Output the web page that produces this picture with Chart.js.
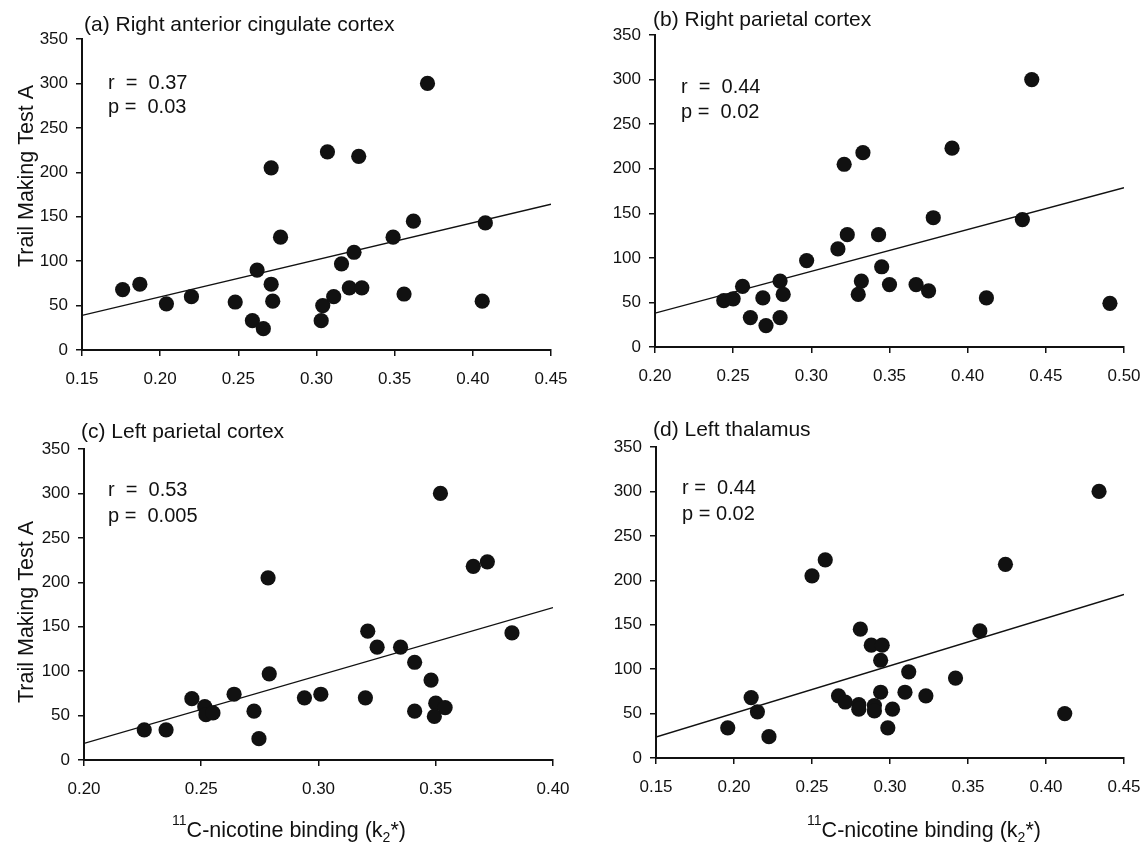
<!DOCTYPE html>
<html><head><meta charset="utf-8">
<script src="https://cdn.jsdelivr.net/npm/chart.js@4.4.0/dist/chart.umd.min.js"></script>
<style>
html,body{margin:0;padding:0;background:#fff;width:1146px;height:843px;overflow:hidden}
canvas{position:absolute;left:0;top:0;pointer-events:none}
</style></head>
<body>
<canvas id="ca" width="1146" height="843"></canvas>
<canvas id="cb" width="1146" height="843"></canvas>
<canvas id="cc" width="1146" height="843"></canvas>
<canvas id="cd" width="1146" height="843"></canvas>
<script>
// ---- data ----
const yTickLabels = ['0','50','100','150','200','250','300','350'];
const xTickLabelsA = ['0.15','0.20','0.25','0.30','0.35','0.40','0.45'];
const xTickLabelsB = ['0.20','0.25','0.30','0.35','0.40','0.45','0.50'];
const xTickLabelsC = ['0.20','0.25','0.30','0.35','0.40'];
const xTickLabelsD = ['0.15','0.20','0.25','0.30','0.35','0.40','0.45'];

const titleA = '(a) Right anterior cingulate cortex';
const titleB = '(b) Right parietal cortex';
const titleC = '(c) Left parietal cortex';
const titleD = '(d) Left thalamus';
const statsA = ['r  =  0.37', 'p =  0.03'];
const statsB = ['r  =  0.44', 'p =  0.02'];
const statsC = ['r  =  0.53', 'p =  0.005'];
const statsD = ['r =  0.44', 'p = 0.02'];
const yAxisTitle = 'Trail Making Test A';

const xA = [0.176,0.187,0.204,0.220,0.248,0.259,0.266,0.262,0.271,0.272,0.271,0.277,0.303,0.304,0.311,0.307,0.316,0.321,0.329,0.324,0.327,0.349,0.356,0.362,0.371,0.406,0.408];
const yA = [68,74,52,60,54,33,24,90,74,55,205,127,33,50,60,223,97,70,70,110,218,127,63,145,300,55,143];
const fitA = [39,164];

const xB = [0.244,0.250,0.256,0.261,0.269,0.271,0.280,0.282,0.280,0.297,0.317,0.323,0.321,0.333,0.332,0.330,0.343,0.345,0.350,0.367,0.375,0.378,0.390,0.412,0.435,0.441,0.491];
const yB = [52,54,68,33,55,24,74,59,33,97,110,126,205,218,74,59,126,90,70,70,63,145,223,55,143,300,49];
const fitB = [38,178.6];

const xC = [0.2257,0.235,0.246,0.2515,0.252,0.255,0.264,0.2725,0.2746,0.2785,0.279,0.294,0.301,0.320,0.321,0.325,0.335,0.341,0.348,0.341,0.350,0.3494,0.354,0.352,0.366,0.372,0.3825];
const yC = [34,34,69,60,51,53,74,55,24,205,97,70,74,70,145,127,127,110,90,55,64,49,59,300,218,223,143];
const fitC = [18.7,171.5];

const xD = [0.196,0.211,0.215,0.2224,0.250,0.2585,0.267,0.2713,0.280,0.280,0.281,0.288,0.295,0.294,0.294,0.290,0.290,0.2986,0.3016,0.3096,0.312,0.323,0.342,0.3576,0.374,0.412,0.434];
const yD = [34,68,52,24,205,223,70,63,60,55,145,127,127,110,74,59,53,34,55,74,97,70,90,143,218,50,300];
const fitD = [23.6,184];

// ---- layout / style ----
const FONT = "'Liberation Sans', Arial, Helvetica, sans-serif";
const W = 1146, H = 843;
const YW = 78, XH = 60; // fixed axis box sizes
const panels = [
  {id:'ca', xs:xA, ys:yA, fit:fitA, xt:xTickLabelsA, title:titleA, stats:statsA,
   area:{l:82,t:39,r:551,b:350}, titlePos:{x:84,y:31}, statsPos:{x:108,y1:89,y2:113},
   yTitle:{x:33,cy:176}, xTitle:null},
  {id:'cb', xs:xB, ys:yB, fit:fitB, xt:xTickLabelsB, title:titleB, stats:statsB,
   area:{l:655,t:35,r:1124,b:347}, titlePos:{x:653,y:26}, statsPos:{x:681,y1:93,y2:118},
   yTitle:null, xTitle:null},
  {id:'cc', xs:xC, ys:yC, fit:fitC, xt:xTickLabelsC, title:titleC, stats:statsC,
   area:{l:84,t:449,r:553,b:760}, titlePos:{x:81,y:438}, statsPos:{x:108,y1:496,y2:522},
   yTitle:{x:33,cy:612}, xTitle:{cx:289,y:837}},
  {id:'cd', xs:xD, ys:yD, fit:fitD, xt:xTickLabelsD, title:titleD, stats:statsD,
   area:{l:656,t:447,r:1124,b:758}, titlePos:{x:653,y:436}, statsPos:{x:682,y1:494,y2:520},
   yTitle:null, xTitle:{cx:924,y:837}}
];

function drawXTitle(ctx, cx, y) {
  const big = '21.5px ' + FONT, small = '14px ' + FONT;
  const parts = [
    {t:'11', f:small, dy:-12},
    {t:'C-nicotine binding (k', f:big, dy:0},
    {t:'2', f:small, dy:5},
    {t:'*)', f:big, dy:0}
  ];
  let total = 0;
  parts.forEach(p => { ctx.font = p.f; p.w = ctx.measureText(p.t).width; total += p.w; });
  let x = cx - total / 2;
  ctx.textAlign = 'left';
  ctx.textBaseline = 'alphabetic';
  parts.forEach(p => { ctx.font = p.f; ctx.fillText(p.t, x, y + p.dy); x += p.w; });
}

const textPlugin = {
  id: 'panelText',
  afterDraw(chart, args, opts) {
    const p = opts.panel;
    const ctx = chart.ctx;
    ctx.save();
    ctx.fillStyle = '#111';
    ctx.textAlign = 'left';
    ctx.textBaseline = 'alphabetic';
    ctx.font = '21px ' + FONT;
    ctx.fillText(p.title, p.titlePos.x, p.titlePos.y);
    ctx.font = '20px ' + FONT;
    ctx.fillText(p.stats[0], p.statsPos.x, p.statsPos.y1);
    ctx.fillText(p.stats[1], p.statsPos.x, p.statsPos.y2);
    if (p.yTitle) {
      ctx.save();
      ctx.translate(p.yTitle.x, p.yTitle.cy);
      ctx.rotate(-Math.PI / 2);
      ctx.font = '21.5px ' + FONT;
      ctx.textAlign = 'center';
      ctx.fillText(yAxisTitle, 0, 0);
      ctx.restore();
    }
    if (p.xTitle) drawXTitle(ctx, p.xTitle.cx, p.xTitle.y);
    ctx.restore();
  }
};

function fixFit(scale) {
  if (scale.isHorizontal()) scale.height = XH; else scale.width = YW;
  scale.paddingLeft = 0; scale.paddingRight = 0;
  scale.paddingTop = 0; scale.paddingBottom = 0;
}

panels.forEach(p => {
  const xVals = p.xt.map(Number);
  const xmin = xVals[0], xmax = xVals[xVals.length - 1];
  const pts = p.xs.map((x, i) => ({x: x, y: p.ys[i]}));
  const line = [{x: xmin, y: p.fit[0]}, {x: xmax, y: p.fit[1]}];
  new Chart(document.getElementById(p.id), {
    type: 'scatter',
    data: {
      datasets: [
        {type:'line', data: line, borderColor:'#111', borderWidth:1.4, pointRadius:0, fill:false, order:2},
        {data: pts, backgroundColor:'#111', borderWidth:0, pointRadius:7.6, pointHoverRadius:7.6, order:1}
      ]
    },
    options: {
      responsive: false,
      animation: false,
      devicePixelRatio: 1,
      events: [],
      layout: {padding: {left: p.area.l - YW, top: p.area.t, right: W - p.area.r, bottom: H - p.area.b - XH}},
      plugins: {legend:{display:false}, tooltip:{enabled:false}, title:{display:false}, panelText:{panel:p}},
      scales: {
        x: {
          type: 'linear', min: xmin, max: xmax,
          afterBuildTicks: s => { s.ticks = xVals.map(v => ({value: v})); },
          afterFit: fixFit,
          border: {display: true, color: '#111', width: 2},
          grid: {display: true, drawOnChartArea: false, drawTicks: true, tickLength: 6, color: '#111', lineWidth: 1.5},
          ticks: {
            autoSkip: false, maxRotation: 0, minRotation: 0, padding: 13, color: '#111',
            font: {family: FONT, size: 17},
            callback: (v) => { const i = xVals.findIndex(t => Math.abs(t - v) < 1e-9); return i >= 0 ? p.xt[i] : ''; }
          }
        },
        y: {
          type: 'linear', min: 0, max: 350,
          afterBuildTicks: s => { s.ticks = yTickLabels.map(v => ({value: Number(v)})); },
          afterFit: fixFit,
          border: {display: true, color: '#111', width: 2},
          grid: {display: true, drawOnChartArea: false, drawTicks: true, tickLength: 6, color: '#111', lineWidth: 1.5},
          ticks: {
            autoSkip: false, padding: 8, color: '#111',
            font: {family: FONT, size: 17},
            callback: (v) => { const i = yTickLabels.findIndex(t => Number(t) === v); return i >= 0 ? yTickLabels[i] : ''; }
          }
        }
      }
    },
    plugins: [textPlugin]
  });
});
</script>
</body></html>
